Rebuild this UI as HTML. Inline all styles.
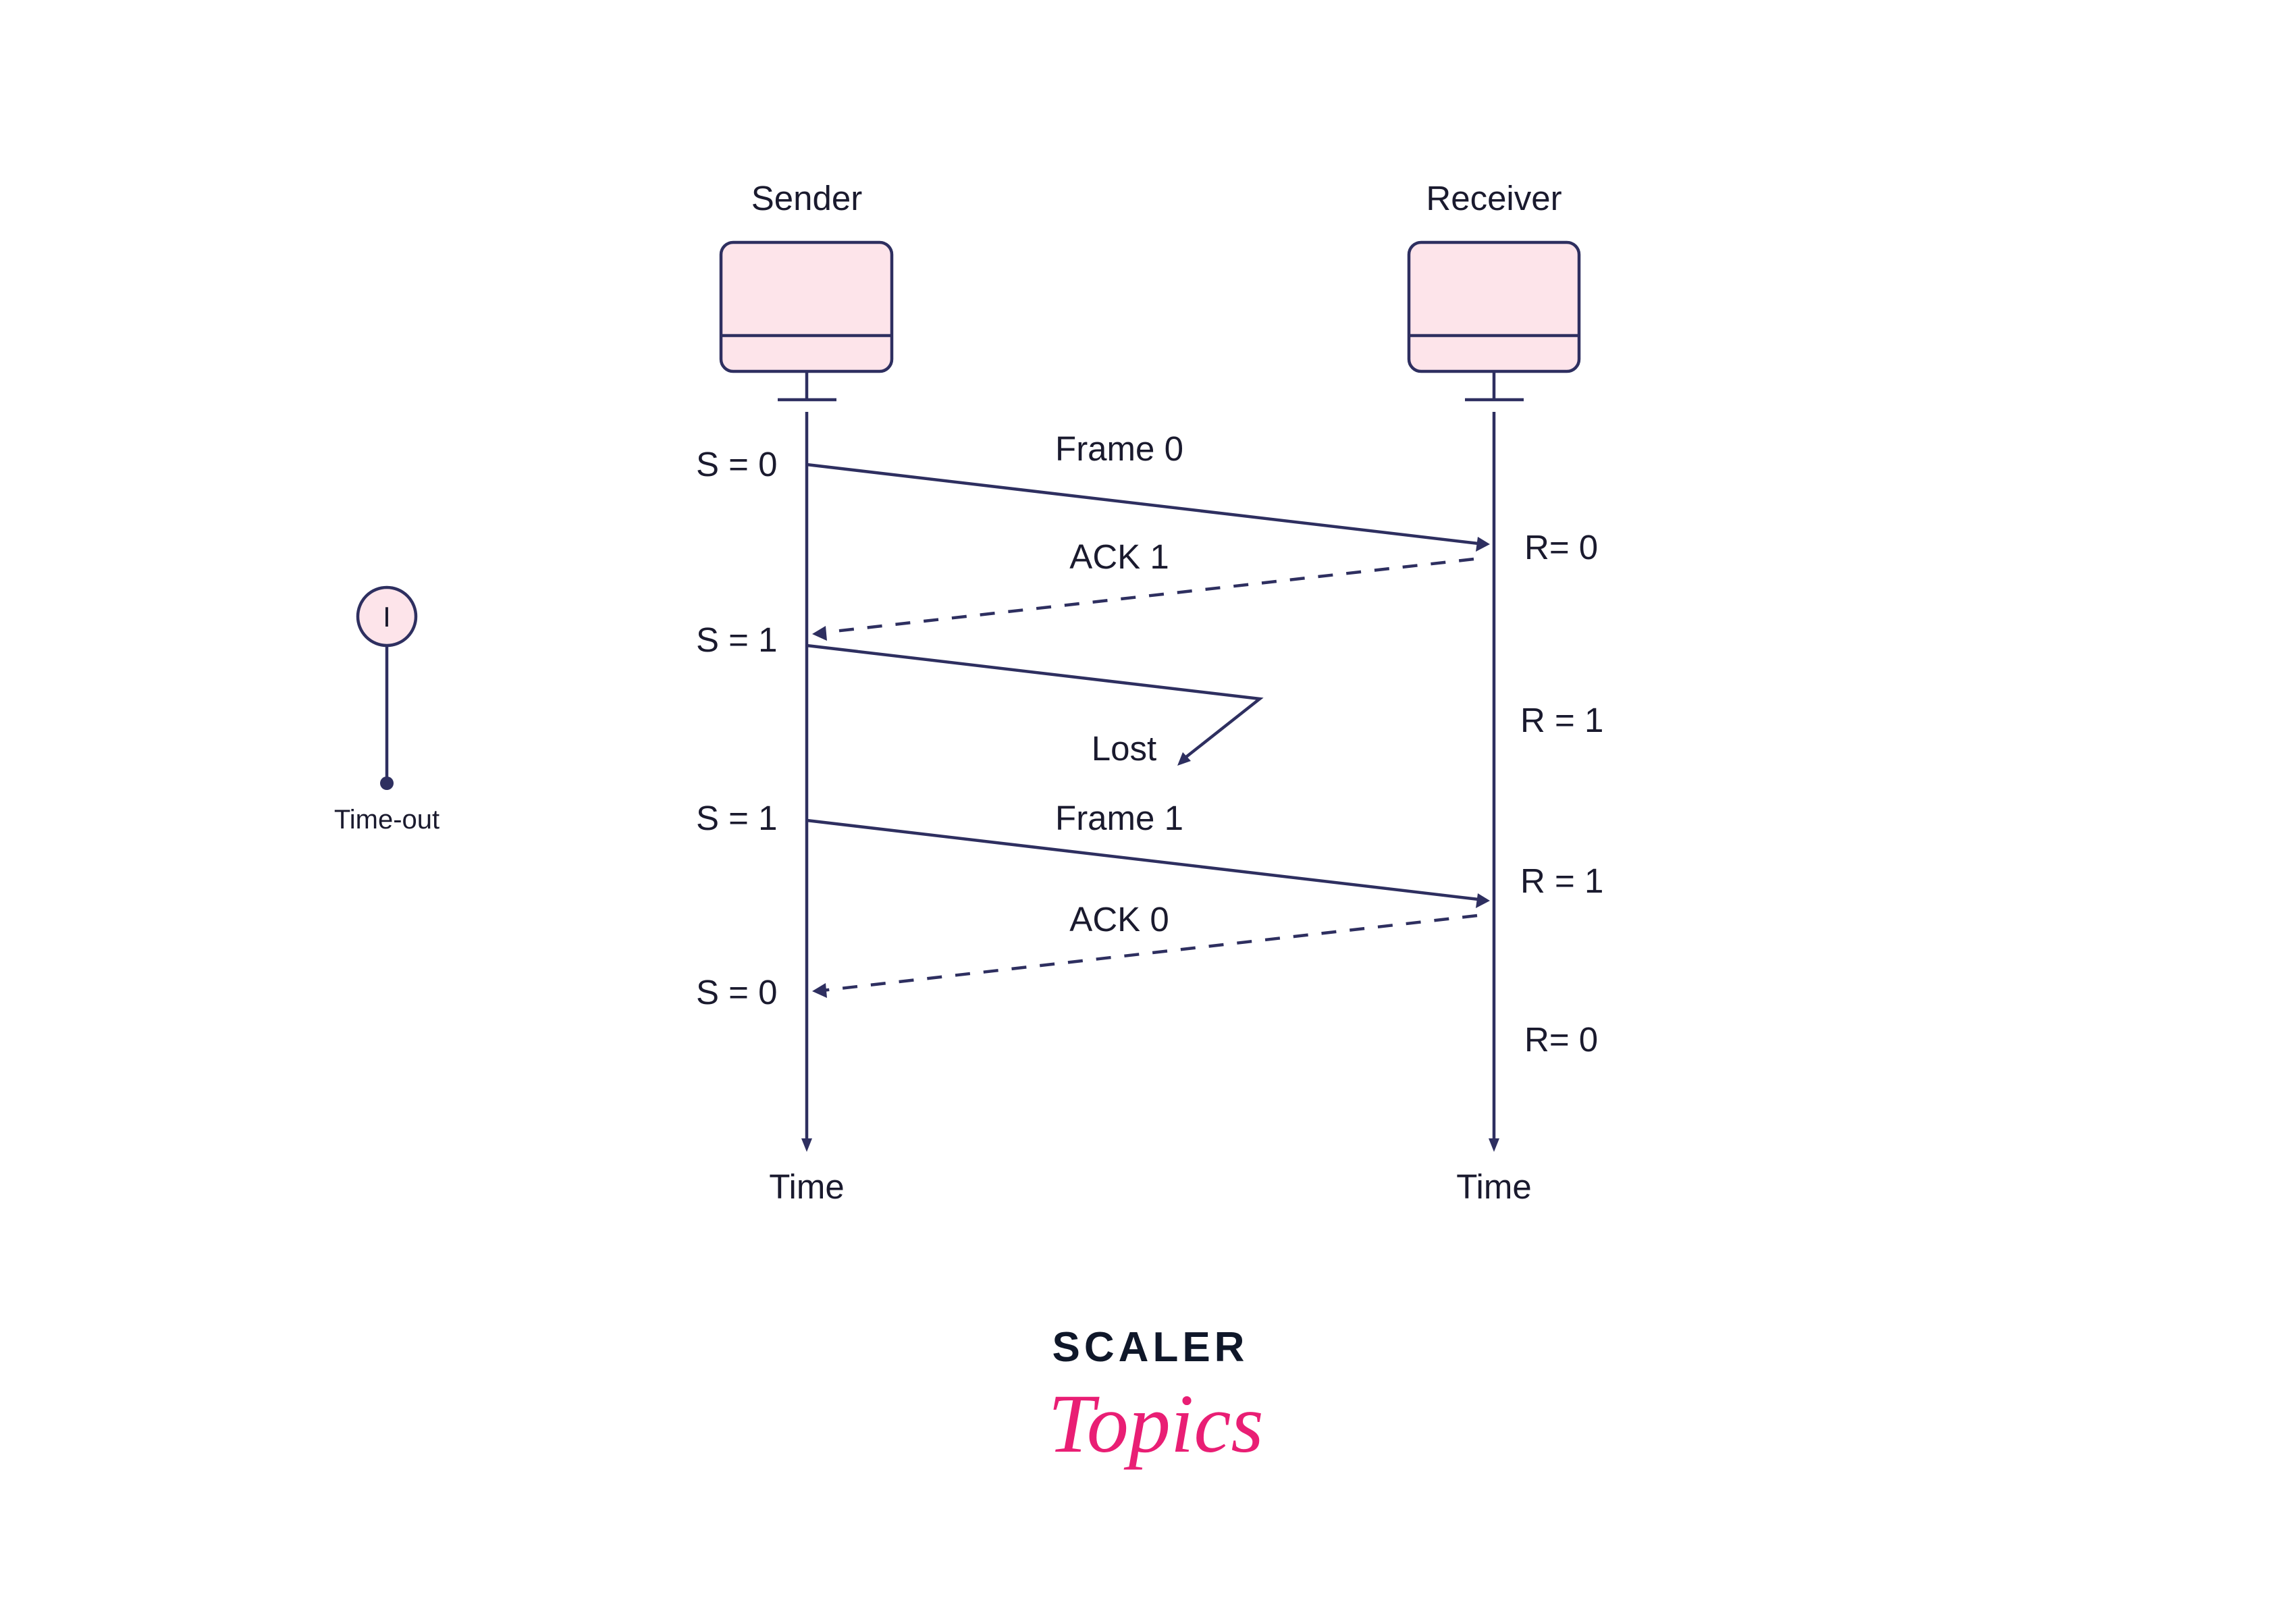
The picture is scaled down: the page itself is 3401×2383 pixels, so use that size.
<!DOCTYPE html>
<html><head><meta charset="utf-8"><style>
html,body{margin:0;padding:0;background:#fff;}
svg{display:block;}
text{font-family:"Liberation Sans",sans-serif;fill:#1a1a2e;}
</style></head><body>
<svg width="3401" height="2383" viewBox="0 0 3401 2383" xmlns="http://www.w3.org/2000/svg">
<g stroke="#2e2f60" stroke-width="4.5" fill="none">
<rect x="1068" y="359" width="253" height="191" rx="18" fill="#fde4ea"/>
<line x1="1068" y1="497" x2="1321" y2="497"/>
<line x1="1195" y1="550" x2="1195" y2="592"/>
<line x1="1152" y1="592" x2="1239" y2="592"/>
<rect x="2087" y="359" width="252" height="191" rx="18" fill="#fde4ea"/>
<line x1="2087" y1="497" x2="2339" y2="497"/>
<line x1="2213" y1="550" x2="2213" y2="592"/>
<line x1="2170" y1="592" x2="2257" y2="592"/>
<line x1="1195" y1="610" x2="1195" y2="1690"/>
<line x1="2213" y1="610" x2="2213" y2="1690"/>
<line x1="1195" y1="688" x2="2190" y2="805"/>
<line x1="2183" y1="828" x2="1218" y2="937" stroke-dasharray="22,20"/>
<polyline points="1195,956 1866,1035 1752,1125"/>
<line x1="1195" y1="1215" x2="2190" y2="1332"/>
<line x1="2188" y1="1356" x2="1218" y2="1467" stroke-dasharray="22,20"/>
<circle cx="573" cy="913" r="43" fill="#fde4ea"/>
<line x1="573" y1="956" x2="573" y2="1158"/>
</g>
<g fill="#2e2f60">
<polygon points="2207,806 2186,817 2189,795"/>
<polygon points="1203,939 1223,927 1225,949"/>
<polygon points="1744,1134 1752,1114 1764,1127"/>
<polygon points="2207,1334 2186,1345 2189,1323"/>
<polygon points="1203,1468 1223,1456 1225,1478"/>
<polygon points="1195,1706 1187,1686 1203,1686"/>
<polygon points="2213,1706 2205,1686 2221,1686"/>
<circle cx="573" cy="1160" r="10"/>
</g>
<g font-size="51" text-anchor="middle">
<text x="1195" y="311">Sender</text>
<text x="2213" y="311">Receiver</text>
<text x="1195" y="1775">Time</text>
<text x="2213" y="1775">Time</text>
<text x="1658" y="682">Frame 0</text>
<text x="1658" y="842">ACK 1</text>
<text x="1665" y="1126">Lost</text>
<text x="1658" y="1229">Frame 1</text>
<text x="1658" y="1379">ACK 0</text>
</g>
<g font-size="51">
<text x="1031" y="705">S = 0</text>
<text x="1031" y="965">S = 1</text>
<text x="1031" y="1229">S = 1</text>
<text x="1031" y="1487">S = 0</text>
<text x="2258" y="828">R= 0</text>
<text x="2252" y="1084">R = 1</text>
<text x="2252" y="1322">R = 1</text>
<text x="2258" y="1557">R= 0</text>
</g>
<text x="573" y="1227" font-size="40" text-anchor="middle">Time-out</text>
<text x="573" y="928" font-size="42" text-anchor="middle">I</text>
<text x="1704" y="2016" font-size="62" font-weight="bold" letter-spacing="6" text-anchor="middle" style="fill:#0f1729">SCALER</text>
<text x="1712" y="2150" font-size="124" font-style="italic" text-anchor="middle" style="fill:#e91e74;font-family:'Liberation Serif',serif">Topics</text>
</svg>
</body></html>
